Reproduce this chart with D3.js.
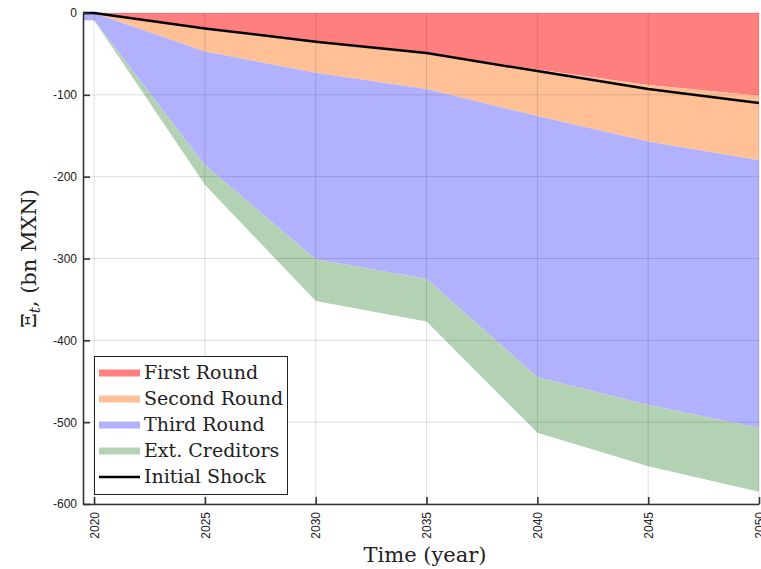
<!DOCTYPE html>
<html>
<head>
<meta charset="utf-8">
<script src="https://cdn.jsdelivr.net/npm/d3@7"></script>
<style>
  html, body { margin: 0; padding: 0; background: #fff; }
  svg { display: block; }
</style>
</head>
<body>
<svg id="chart" width="761" height="569"></svg>
<script>
// ---- data (bn MXN) ----
const years        = [2019.5, 2020, 2025, 2030, 2035, 2040, 2045, 2050];
const firstRound   = [0, 0, -19, -35, -49, -69, -88, -101];
const secondRound  = [0, 0, -28, -38, -44, -57, -69, -79];
const thirdRound   = [-9, -9, -139, -228, -232, -319, -322, -327];
const extCreditors = [0, 0, -24, -51, -52, -68, -75, -78];
const initialShock = [0, 0, -19, -35, -49, -71, -93, -110];
const xTicks = [2020, 2025, 2030, 2035, 2040, 2045, 2050];
const yTicks = [0, -100, -200, -300, -400, -500, -600];
const seriesNames  = ["First Round", "Second Round", "Third Round", "Ext. Creditors"];
const seriesColors = ["#ff7f7f", "#ffc096", "#b1b1fd", "#b3d2b3"];

(function () {
  const keys = ["first", "second", "third", "ext"];
  const table = years.map((yr, i) => ({
    year: yr, first: firstRound[i], second: secondRound[i], third: thirdRound[i], ext: extCreditors[i]
  }));
  const stacked = d3.stack().keys(keys).offset(d3.stackOffsetNone)(table);

  const svg = d3.select("#chart");
  const pL = 83, pR = 759, pT = 13, pB = 504;
  const x = d3.scaleLinear().domain([2019.5, 2050]).range([pL, pR]);
  const y = d3.scaleLinear().domain([-600, 0]).range([pB, pT]);

  const area = d3.area()
    .x(d => x(d.data.year))
    .y0(d => y(d[0]))
    .y1(d => y(d[1]));
  svg.append("g").selectAll("path").data(stacked).join("path")
    .attr("d", area)
    .attr("fill", (d, i) => seriesColors[i])
    .attr("stroke", "none");

  const grid = svg.append("g").attr("stroke", "rgba(0,0,0,0.13)").attr("stroke-width", 1);
  grid.selectAll("line.gx").data(xTicks).join("line").attr("class", "gx")
    .attr("x1", d => x(d)).attr("x2", d => x(d)).attr("y1", pT).attr("y2", pB);
  grid.selectAll("line.gy").data(yTicks).join("line").attr("class", "gy")
    .attr("x1", pL).attr("x2", pR).attr("y1", d => y(d)).attr("y2", d => y(d));

  svg.append("path")
    .datum(years.map((yr, i) => [yr, initialShock[i]]))
    .attr("fill", "none").attr("stroke", "#000").attr("stroke-width", 2.5)
    .attr("stroke-linejoin", "round")
    .attr("d", d3.line().x(d => x(d[0])).y(d => y(d[1])));

  const yAxis = svg.append("g").attr("transform", `translate(${pL},0)`)
    .call(d3.axisLeft(y).tickValues(yTicks).tickFormat(d => String(d))
      .tickSizeInner(-7).tickSizeOuter(0).tickPadding(6));
  const xAxis = svg.append("g").attr("transform", `translate(0,${pB})`)
    .call(d3.axisBottom(x).tickValues(xTicks).tickFormat(d => String(d))
      .tickSizeInner(-7).tickSizeOuter(0).tickPadding(8));
  [yAxis, xAxis].forEach(a => {
    a.select(".domain").attr("stroke", "#333").attr("stroke-width", 1.6);
    a.selectAll(".tick line").attr("stroke", "#333").attr("stroke-width", 1.6);
    a.selectAll("text").attr("fill", "#222").attr("font-family", "Liberation Sans, Arial, sans-serif").attr("font-size", 12);
  });
  xAxis.selectAll(".tick text")
    .attr("transform", "rotate(-90)")
    .attr("x", -8).attr("y", 0).attr("dy", "0.35em")
    .attr("text-anchor", "end");

  const serif = "DejaVu Serif, serif";
  svg.append("text")
    .attr("x", 425).attr("y", 562)
    .attr("text-anchor", "middle").attr("font-family", serif).attr("font-size", 21).attr("fill", "#222")
    .text("Time (year)");
  const yt = svg.append("text")
    .attr("transform", `translate(36,${(pT + pB) / 2}) rotate(-90)`)
    .attr("text-anchor", "middle").attr("font-family", serif).attr("font-size", 21).attr("fill", "#222");
  yt.append("tspan").text("Ξ");
  yt.append("tspan").attr("font-size", 15).attr("font-style", "italic").attr("dy", 4).text("t");
  yt.append("tspan").attr("dy", -4).text(", (bn MXN)");

  const lg = svg.append("g");
  lg.append("rect").attr("x", 94.5).attr("y", 356.5).attr("width", 193).attr("height", 138)
    .attr("fill", "#fff").attr("stroke", "#222").attr("stroke-width", 1);
  const legendItems = seriesNames.map((n, i) => ({ name: n, color: seriesColors[i], w: 7 }))
    .concat([{ name: "Initial Shock", color: "#000", w: 2.5 }]);
  const rowY = d3.scaleLinear().domain([0, 4]).range([373, 477]);
  legendItems.forEach((it, i) => {
    const yy = rowY(i);
    lg.append("line").attr("x1", 99).attr("x2", 140).attr("y1", yy).attr("y2", yy)
      .attr("stroke", it.color).attr("stroke-width", it.w);
    lg.append("text").attr("x", 144).attr("y", yy + 6)
      .attr("font-family", serif).attr("font-size", 19).attr("fill", "#222").text(it.name);
  });
})();
</script>
</body>
</html>
